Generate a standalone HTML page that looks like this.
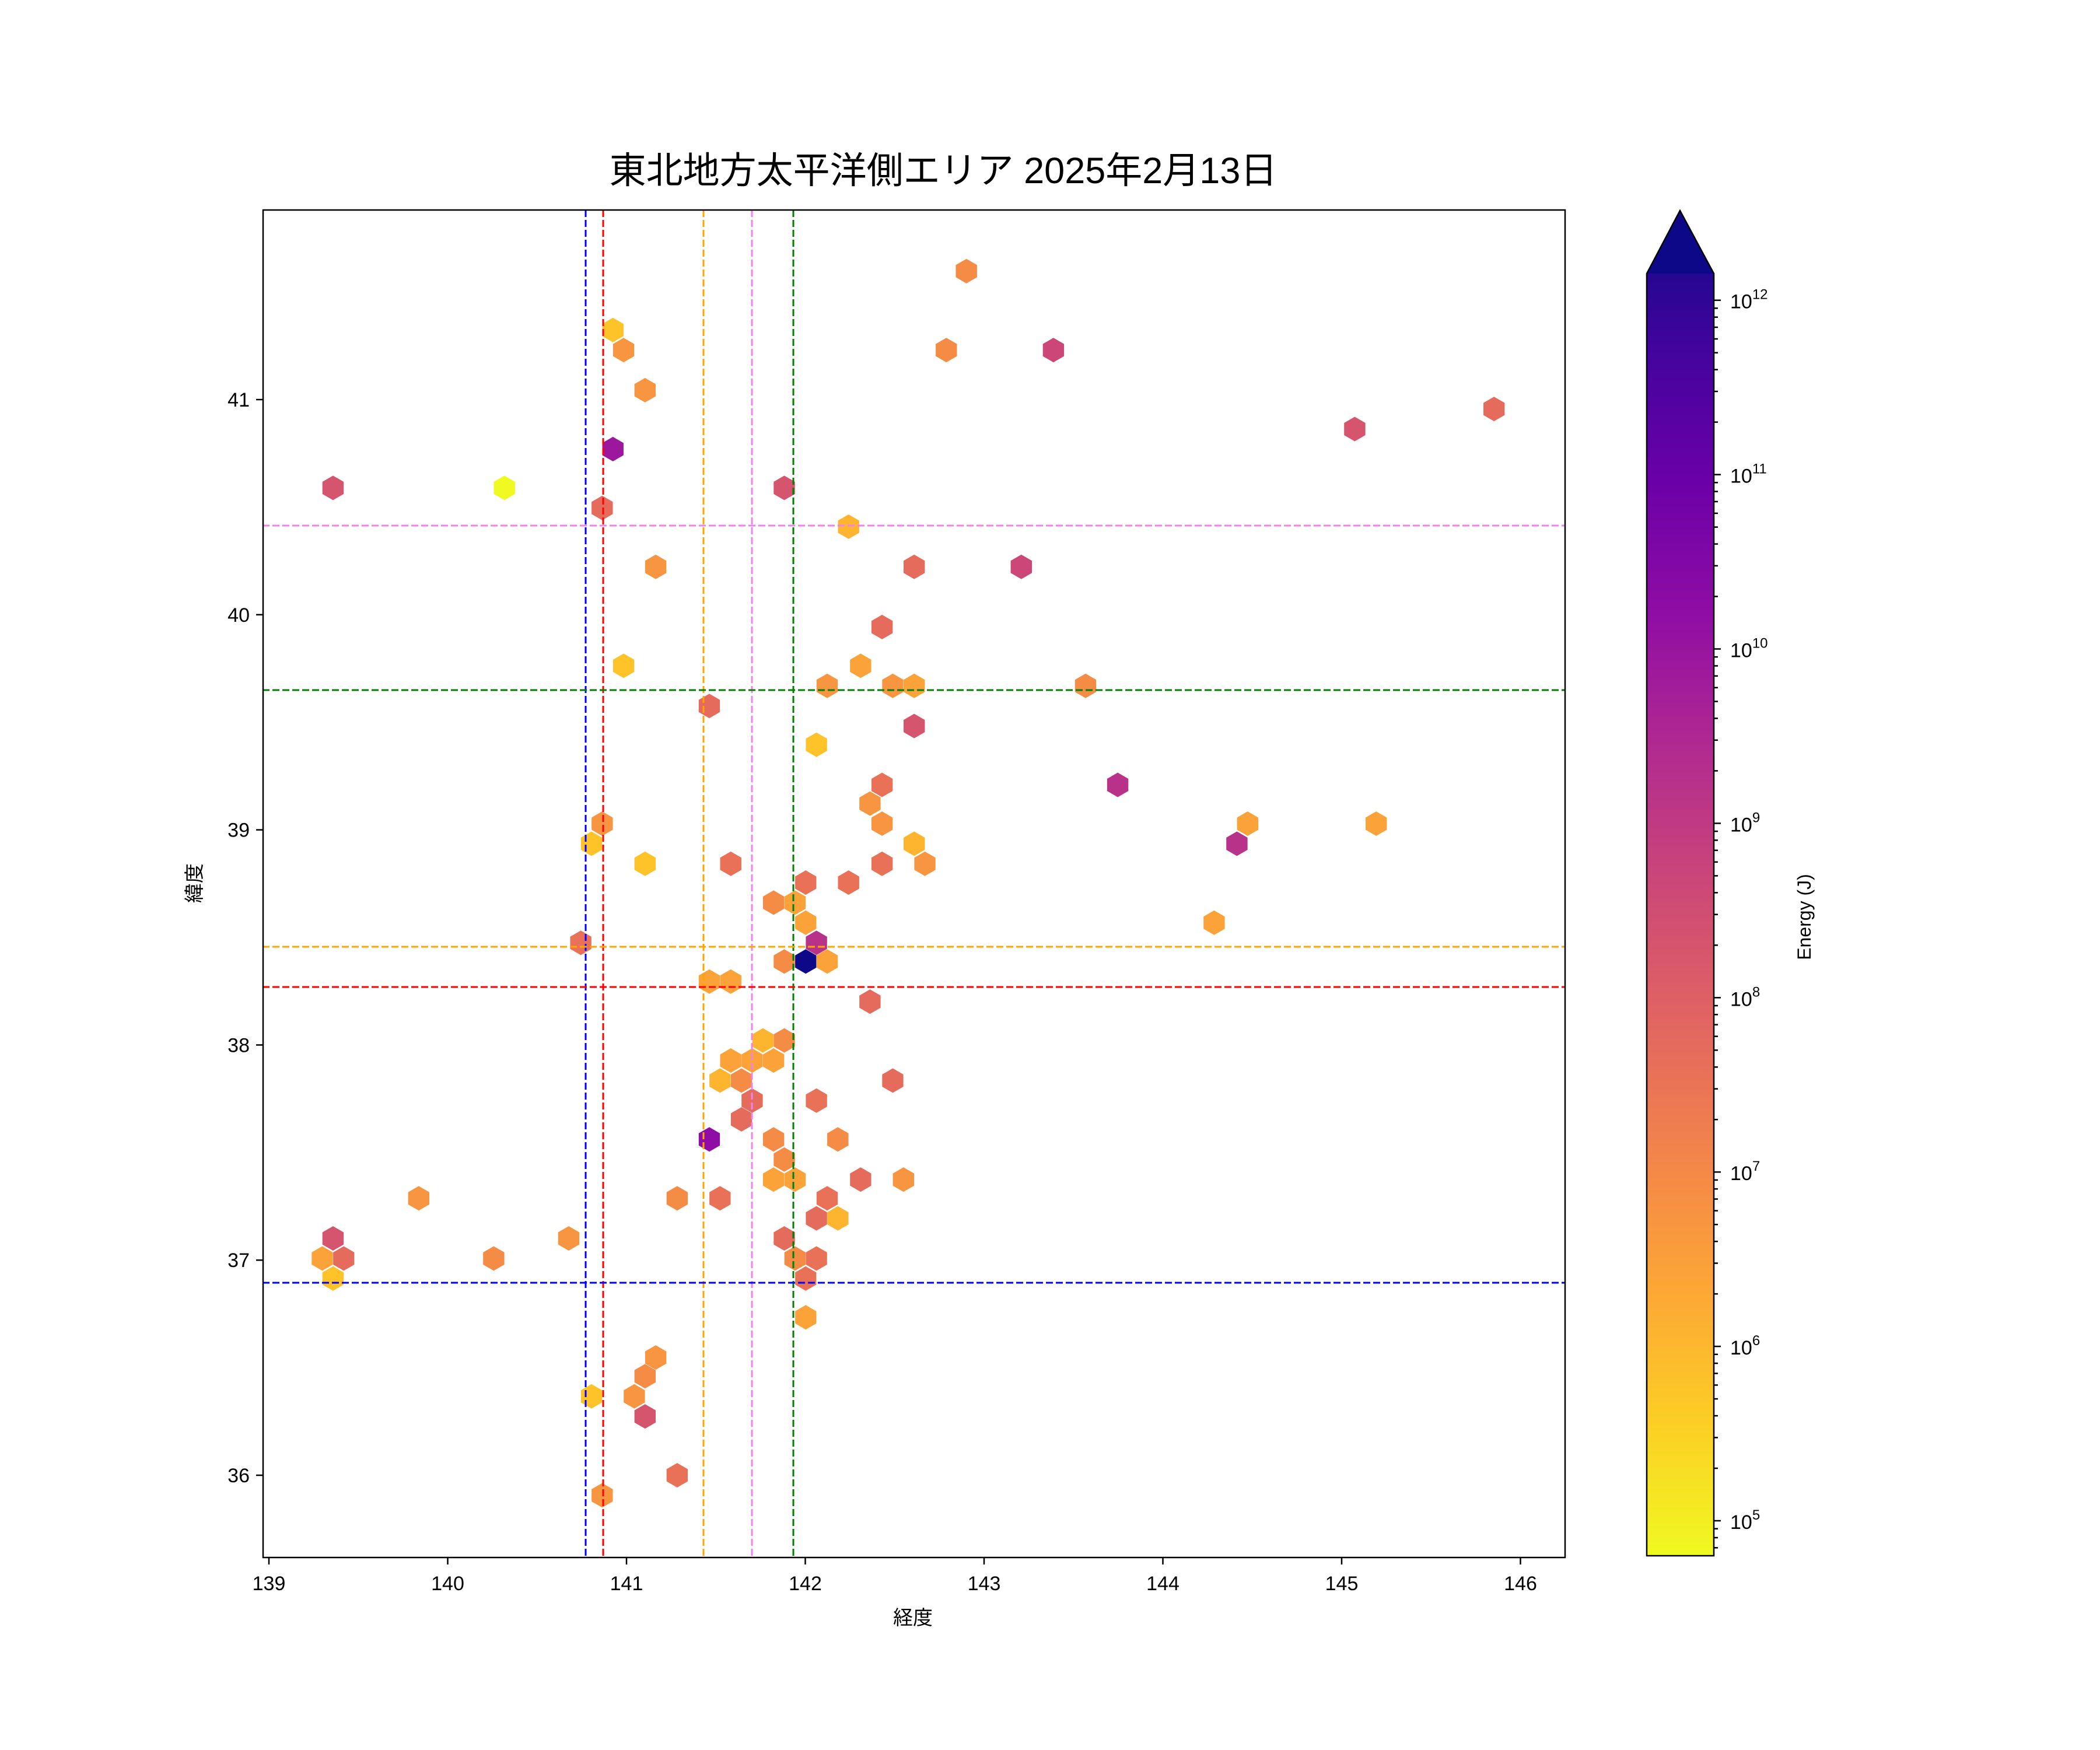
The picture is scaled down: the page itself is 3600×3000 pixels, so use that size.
<!DOCTYPE html>
<html><head><meta charset="utf-8"><style>
html,body{margin:0;padding:0;background:#fff}
svg{display:block}
text{font-family:"Liberation Sans","Noto Sans CJK JP",sans-serif;fill:#000}
</style></head><body>
<svg id="s" width="3600" height="3000" xmlns="http://www.w3.org/2000/svg">
<defs>
<linearGradient id="pl" x1="0" y1="0" x2="0" y2="1">
<stop offset="0" stop-color="#0d0887"/><stop offset="0.1" stop-color="#41049d"/><stop offset="0.2" stop-color="#6a00a8"/><stop offset="0.3" stop-color="#8f0da4"/><stop offset="0.4" stop-color="#b12a90"/><stop offset="0.5" stop-color="#cc4778"/><stop offset="0.6" stop-color="#e16462"/><stop offset="0.7" stop-color="#f2844b"/><stop offset="0.8" stop-color="#fca636"/><stop offset="0.9" stop-color="#fcce25"/><stop offset="1" stop-color="#f0f921"/>
</linearGradient>
</defs>
<rect x="0" y="0" width="3600" height="3000" fill="#fff"/>
<g id="hex"></g>
<g stroke-width="3" stroke-dasharray="12,5" fill="none">
<line x1="1004" y1="360" x2="1004" y2="2670" stroke="#0000ff"/>
<line x1="1034" y1="360" x2="1034" y2="2670" stroke="#ff0000"/>
<line x1="1206" y1="360" x2="1206" y2="2670" stroke="#ffa500"/>
<line x1="1289" y1="360" x2="1289" y2="2670" stroke="#ee82ee"/>
<line x1="1360" y1="360" x2="1360" y2="2670" stroke="#008000"/>
<line x1="450" y1="901" x2="2683" y2="901" stroke="#ee82ee"/>
<line x1="450" y1="1183" x2="2683" y2="1183" stroke="#008000"/>
<line x1="450" y1="1623" x2="2683" y2="1623" stroke="#ffa500"/>
<line x1="450" y1="1692" x2="2683" y2="1692" stroke="#ff0000"/>
<line x1="450" y1="2199" x2="2683" y2="2199" stroke="#0000ff"/>
</g>
<rect x="451" y="360" width="2232" height="2310" fill="none" stroke="#000" stroke-width="2.5"/>
<g id="ticks" stroke="#000" stroke-width="2.5"></g>
<g id="labels" font-size="34"></g>
<text x="1617" y="314" font-size="63" text-anchor="middle">東北地方太平洋側エリア 2025年2月13日</text>
<text x="1565" y="2785" font-size="34" text-anchor="middle">経度</text>
<text x="0" y="0" font-size="34" text-anchor="middle" transform="translate(345,1514) rotate(-90)">緯度</text>
<path d="M2823,2667 L2823,469 L2880,361 L2938,469 L2938,2667 Z" fill="url(#pl)"/>
<path d="M2823,469 L2880,361 L2938,469 Z" fill="#0d0887"/>
<path d="M2823,2667 L2823,469 L2880,361 L2938,469 L2938,2667 Z" fill="none" stroke="#000" stroke-width="2.5"/>
<g id="cb" stroke="#000" stroke-width="2.5"></g>
<g id="cbl" font-size="34"></g>
<text x="0" y="0" font-size="32" text-anchor="middle" transform="translate(3104,1572) rotate(-90)">Energy (J)</text>
</svg>
<script>
var NS="http://www.w3.org/2000/svg";
function el(t,a,p,txt){var e=document.createElementNS(NS,t);for(var k in a)e.setAttribute(k,a[k]);if(txt!==undefined)e.textContent=txt;p.appendChild(e);return e;}
var d=[[721,202,"#f58c46"],[706,261,"#f58c46"],[786,261,"#cc4778"],[457,246,"#fdc328"],[465,261,"#f89540"],[481,291,"#f89540"],[1011,320,"#d5546e"],[1115,305,"#e56b5d"],[457,335,"#9c179e"],[248,364,"#d5546e"],[376,364,"#f0f921"],[585,364,"#d5546e"],[449,379,"#e56b5d"],[633,393,"#fdb42f"],[489,423,"#f89540"],[682,423,"#e56b5d"],[762,423,"#cc4778"],[658,468,"#e56b5d"],[465,497,"#fdc328"],[642,497,"#fba238"],[617,512,"#f89540"],[666,512,"#f89540"],[682,512,"#fba238"],[810,512,"#f58c46"],[529,527,"#e56b5d"],[682,542,"#d5546e"],[609,556,"#fdc328"],[834,586,"#b83289"],[658,586,"#e97158"],[649,600,"#f89540"],[658,615,"#f89540"],[449,615,"#f89540"],[931,615,"#fba238"],[1027,615,"#fba238"],[441,630,"#fdc328"],[923,630,"#b83289"],[682,630,"#fdb42f"],[481,645,"#fdc328"],[545,645,"#e97158"],[658,645,"#e97158"],[690,645,"#f89540"],[601,659,"#e97158"],[633,659,"#e97158"],[577,674,"#f58c46"],[593,674,"#fba238"],[601,689,"#fba238"],[906,689,"#fba238"],[433,704,"#e97158"],[609,704,"#b83289"],[585,718,"#f58c46"],[617,718,"#fba238"],[601,718,"#0d0887"],[529,733,"#fba238"],[545,733,"#fba238"],[649,748,"#e56b5d"],[569,777,"#fdb42f"],[585,777,"#f58c46"],[545,792,"#fba238"],[577,792,"#fba238"],[561,792,"#fba238"],[553,807,"#f58c46"],[537,807,"#fdb42f"],[666,807,"#e56b5d"],[561,822,"#e56b5d"],[609,822,"#e97158"],[553,836,"#e56b5d"],[529,851,"#8f0da4"],[577,851,"#f58c46"],[625,851,"#f58c46"],[585,866,"#f58c46"],[577,881,"#fba238"],[593,881,"#fba238"],[642,881,"#e56b5d"],[674,881,"#f89540"],[312,895,"#f89540"],[505,895,"#f58c46"],[537,895,"#e97158"],[617,895,"#e97158"],[609,910,"#e56b5d"],[625,910,"#fdb42f"],[248,925,"#d5546e"],[424,925,"#f89540"],[585,925,"#e56b5d"],[240,940,"#fba238"],[256,940,"#e56b5d"],[368,940,"#f58c46"],[593,940,"#f58c46"],[609,940,"#e97158"],[248,955,"#fdc328"],[601,955,"#e97158"],[601,984,"#fba238"],[489,1014,"#f89540"],[481,1028,"#f58c46"],[441,1043,"#fdc328"],[473,1043,"#f89540"],[481,1058,"#d5546e"],[505,1102,"#e97158"],[449,1117,"#f89540"]];
var hx=document.getElementById("hex");
var r=21,w=r*Math.sqrt(3)/2;
d.forEach(function(p){var x=461+(p[0]-201)*2.2956+2,y=683+(p[1]-298)*2.2935+2;
var pts=[[x,y-r],[x+w,y-r/2],[x+w,y+r/2],[x,y+r],[x-w,y+r/2],[x-w,y-r/2]].map(function(q){return q[0].toFixed(1)+","+q[1].toFixed(1)}).join(" ");
el("polygon",{points:pts,fill:p[2]},hx);});
var tk=document.getElementById("ticks"),lb=document.getElementById("labels");
for(var i=0;i<=7;i++){var x=461+i*306.5;el("line",{x1:x,y1:2670,x2:x,y2:2682},tk);el("text",{x:x,y:2726,"text-anchor":"middle"},lb,String(139+i));}
for(var j=0;j<=5;j++){var y=2529-j*368.8;el("line",{x1:451,y1:y,x2:439,y2:y},tk);el("text",{x:428,y:y+12,"text-anchor":"end"},lb,String(36+j));}
var cb=document.getElementById("cb"),cbl=document.getElementById("cbl");
function ey(v){return 2607-(v-5)*298.9;}
for(var e=4;e<=12;e++){for(var m=1;m<=9;m++){var v=e+Math.log10(m);var y=ey(v);if(y<469||y>2667)continue;
if(m==1){el("line",{x1:2938,y1:y,x2:2950,y2:y},cb);var t=el("text",{x:2966,y:y+14},cbl);t.textContent="10";var s=el("tspan",{dy:-16,"font-size":"24"},t);s.textContent=String(e);}
else el("line",{x1:2938,y1:y,x2:2945,y2:y},cb);}}
</script>
</body></html>
